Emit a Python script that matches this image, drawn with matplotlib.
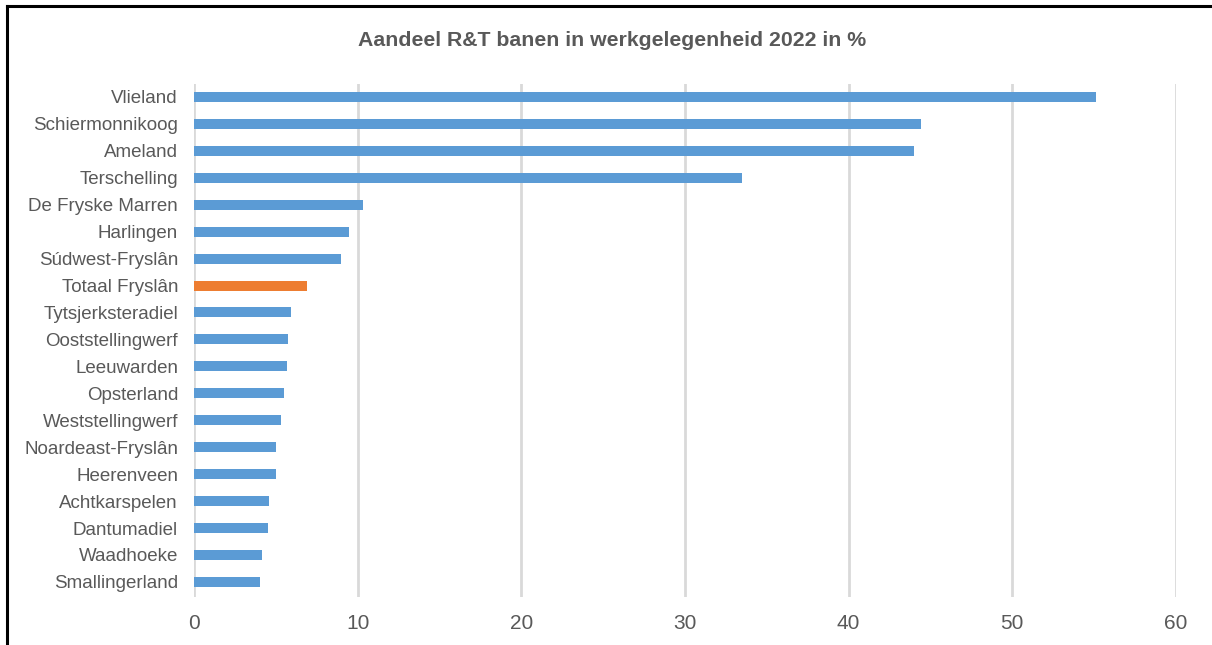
import matplotlib
matplotlib.use("Agg")
import matplotlib.pyplot as plt
from matplotlib.lines import Line2D

categories = ["Vlieland", "Schiermonnikoog", "Ameland", "Terschelling", "De Fryske Marren",
              "Harlingen", "Súdwest-Fryslân", "Totaal Fryslân", "Tytsjerksteradiel",
              "Ooststellingwerf", "Leeuwarden", "Opsterland", "Weststellingwerf",
              "Noardeast-Fryslân", "Heerenveen", "Achtkarspelen", "Dantumadiel",
              "Waadhoeke", "Smallingerland"]
values = [55.1, 44.4, 44.0, 33.5, 10.3, 9.5, 9.0, 6.9, 5.93, 5.72, 5.66, 5.48, 5.30,
          5.04, 5.01, 4.58, 4.54, 4.13, 4.05]
highlight = "Totaal Fryslân"
xticks = [0, 10, 20, 30, 40, 50, 60]
title = "Aandeel R&T banen in werkgelegenheid 2022 in %"

plt.rcParams['font.family'] = ['Liberation Sans', 'DejaVu Sans']

fig = plt.figure(figsize=(12.12, 6.45), dpi=100)
ax = fig.add_axes([194/1212, 1-597/645, (1176-194)/1212, (597-84)/645])

colors = ["#ed7d31" if c == highlight else "#5b9bd5" for c in categories]
ypos = list(range(len(categories)))
ax.barh(ypos, values, height=0.37, color=colors, zorder=3)
ax.set_ylim(len(categories) - 1 + 0.56, -0.48)
ax.set_xlim(0, 60)
ax.set_xticks(xticks)
ax.set_yticks(ypos)
ax.set_yticklabels(categories)
ax.tick_params(axis='y', length=0, pad=11.5, labelsize=13.5, labelcolor="#595959")
ax.tick_params(axis='x', length=0, pad=12.5, labelsize=15, labelcolor="#595959")
ax.grid(axis='x', color="#d9d9d9", linewidth=2, zorder=0)
for s in ax.spines.values():
    s.set_visible(False)

fig.text(612/1212, 1-41/645, title, ha='center', va='center', fontsize=15.3,
         fontweight='bold', color="#595959")

# outer frame (left and top edges)
fig.add_artist(Line2D([7/1212, 7/1212], [0, 1-6/645], color="black", linewidth=2.2,
                      transform=fig.transFigure))
fig.add_artist(Line2D([7/1212, 1], [1-6/645, 1-6/645], color="black", linewidth=2.2,
                      transform=fig.transFigure))

fig.savefig("out.png", dpi=100)
